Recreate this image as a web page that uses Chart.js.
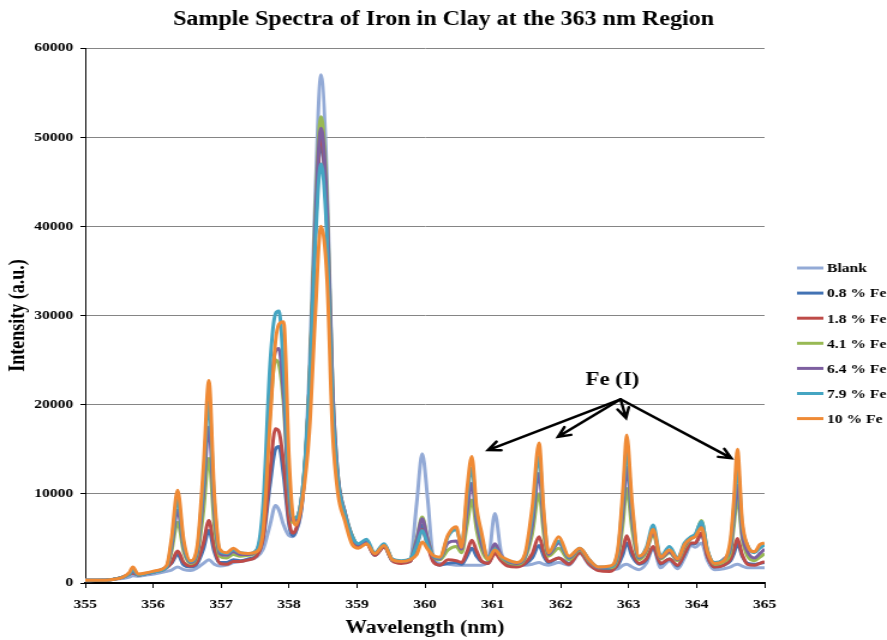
<!DOCTYPE html>
<html>
<head>
<meta charset="utf-8">
<script src="https://cdn.jsdelivr.net/npm/chart.js@4.4.0/dist/chart.umd.min.js"></script>
<style>
  html, body { margin: 0; padding: 0; background: #fff; }
  #spectra { display: block; }
</style>
</head>
<body>
<!-- drawn on a narrower canvas and widened by CSS, so text and strokes come out wide -->
<canvas id="spectra" width="739" height="640" style="width:887px;height:640px"></canvas>
<script>
const wavelengths = [
  355.00, 355.20, 355.40, 355.55, 355.65, 355.70, 355.78, 355.90, 356.05, 356.20,
  356.27, 356.36, 356.45, 356.55, 356.65, 356.74, 356.82, 356.90, 356.98, 357.08,
  357.18, 357.28, 357.40, 357.52, 357.62, 357.72, 357.80, 357.85, 357.92, 358.00,
  358.05, 358.10, 358.20, 358.30, 358.38, 358.47, 358.56, 358.64, 358.72, 358.82,
  358.93, 359.02, 359.14, 359.26, 359.40, 359.52, 359.65, 359.78, 359.88, 359.96,
  360.04, 360.12, 360.22, 360.34, 360.46, 360.54, 360.62, 360.69, 360.76, 360.83,
  360.93, 361.03, 361.12, 361.22, 361.35, 361.47, 361.58, 361.68, 361.75, 361.82,
  361.97, 362.12, 362.28, 362.42, 362.55, 362.72, 362.84, 362.92, 362.97, 363.05,
  363.15, 363.26, 363.36, 363.47, 363.60, 363.72, 363.82, 363.92, 363.98, 364.07,
  364.16, 364.26, 364.40, 364.50, 364.55, 364.60, 364.67, 364.75, 364.85, 364.93,
  365.00
];

const blank = [
  250, 300, 400, 500, 650, 800, 750, 900, 1050, 1300,
  1450, 1800, 1500, 1400, 1700, 2200, 2600, 2100, 1900, 2000,
  2300, 2400, 2600, 2900, 3800, 6500, 8700, 8200, 6500, 5300,
  5200, 5700, 9500, 24000, 42000, 57000, 45000, 22000, 11500, 8000,
  5300, 4300, 4600, 3300, 4300, 2600, 2300, 2500, 9000, 14500,
  9500, 3000, 2200, 2100, 2000, 2000, 2000, 2000, 2000, 2000,
  2400, 7800, 3500, 2100, 2000, 2000, 2100, 2300, 2100, 2000,
  2300, 2000, 3300, 2000, 1500, 1500, 1600, 2000, 2100, 1800,
  1500, 2200, 3900, 1700, 2500, 1600, 2800, 4200, 4000, 4500,
  2500, 1500, 1600, 1800, 2000, 2100, 1900, 1700, 1700, 1700,
  1700
];

const fe08 = [
  300, 300, 400, 650, 1000, 1200, 900, 1050, 1300, 1800,
  2200, 3200, 2000, 1800, 2200, 3800, 5900, 3500, 2300, 2300,
  2600, 2500, 2700, 3100, 5000, 11000, 15000, 15300, 12000, 6500,
  5300, 5800, 9500, 22000, 38000, 49500, 40000, 20000, 11500, 7800,
  5000, 4100, 4500, 3100, 4100, 2500, 2300, 2400, 4300, 6500,
  4500, 2600, 2000, 2200, 2300, 2100, 3000, 3900, 3000, 2400,
  2200, 3500, 2700, 2100, 1900, 2100, 2800, 4200, 3000, 2300,
  2800, 2200, 3500, 2200, 1500, 1500, 2000, 3300, 4500, 3000,
  2100, 2600, 4000, 2100, 2700, 1900, 3200, 4400, 4400, 5500,
  3000, 1800, 2000, 2500, 3300, 4400, 3000, 2200, 2100, 2200,
  2300
];

const fe18 = [
  300, 300, 400, 650, 1000, 1100, 900, 1050, 1300, 1700,
  2300, 3600, 2300, 1900, 2400, 4500, 7000, 4000, 2200, 2100,
  2400, 2400, 2600, 3000, 5200, 12500, 17300, 17000, 13500, 7000,
  5600, 6000, 9800, 22000, 38500, 50000, 40000, 20000, 11500, 7800,
  5000, 4100, 4400, 3100, 4000, 2500, 2200, 2400, 4200, 6000,
  4200, 2400, 2000, 2600, 2500, 2300, 3500, 4800, 3600, 2500,
  2200, 3300, 2500, 1900, 1800, 2200, 3300, 5200, 3500, 2400,
  2800, 2100, 3400, 2100, 1400, 1300, 2200, 4000, 5300, 3500,
  2200, 2700, 4100, 2200, 2700, 2000, 3300, 4500, 4500, 5600,
  3000, 1800, 2000, 2700, 3800, 5000, 3200, 2100, 2000, 2200,
  2400
];

const fe41 = [
  300, 300, 400, 650, 1000, 1300, 900, 1050, 1300, 1800,
  3500, 6800, 3500, 2200, 3200, 8000, 14000, 6500, 3000, 2800,
  3200, 3000, 3100, 3500, 7000, 19000, 25000, 24500, 20000, 9500,
  6800, 7000, 10500, 22000, 40000, 52300, 43000, 22000, 12000, 8000,
  5300, 4300, 4600, 3300, 4200, 2600, 2400, 2600, 5000, 7400,
  5000, 3000, 2600, 3700, 4100, 3400, 6500, 9300, 6000, 3800,
  2600, 4000, 2900, 2300, 2100, 2700, 5500, 10000, 5500, 3000,
  3900, 2600, 3700, 2400, 1700, 1700, 2800, 7000, 10600, 6000,
  2600, 3500, 5500, 2700, 3400, 2500, 4000, 5000, 5300, 7000,
  3600, 2100, 2400, 3500, 6500, 9600, 5000, 3000, 2500, 2900,
  3300
];

const fe64 = [
  300, 300, 400, 650, 1000, 1300, 900, 1050, 1300, 1800,
  4000, 8200, 4000, 2300, 3500, 10000, 17500, 8000, 3300, 3100,
  3500, 3200, 3200, 3600, 7500, 20500, 26000, 26300, 21000, 10000,
  7000, 7100, 10500, 21000, 39000, 51000, 42000, 22000, 12000, 8000,
  5200, 4300, 4600, 3300, 4200, 2600, 2400, 2600, 4800, 7200,
  4900, 3000, 2700, 4500, 4700, 3800, 8000, 11200, 7000, 4500,
  2800, 4400, 3100, 2400, 2200, 2900, 6500, 12300, 6500, 3200,
  4500, 2800, 3800, 2500, 1700, 1800, 3200, 8500, 13000, 7200,
  2800, 3700, 5800, 2800, 3500, 2600, 4200, 5000, 5300, 6500,
  3500, 2200, 2700, 4000, 7500, 11000, 5500, 3500, 2800, 3300,
  3800
];

const fe79 = [
  300, 300, 400, 650, 1000, 1500, 900, 1050, 1300, 1800,
  4500, 9300, 4300, 2400, 3800, 11500, 20300, 9000, 3600, 3300,
  3700, 3400, 3300, 3700, 9000, 24500, 30200, 30500, 24000, 11000,
  7500, 7300, 10500, 22000, 37000, 47000, 38500, 20000, 11500, 7800,
  5200, 4400, 4900, 3400, 4400, 2700, 2500, 2700, 4200, 5900,
  4300, 3100, 2800, 5200, 6000, 4300, 9500, 12900, 8000, 5300,
  2900, 3800, 3000, 2500, 2300, 3000, 7500, 14200, 7500, 3400,
  4700, 2900, 3900, 2600, 1800, 1800, 3500, 10000, 14900, 8200,
  2900, 4000, 6500, 3000, 4100, 2800, 4500, 5200, 5500, 6900,
  3700, 2300, 2600, 4500, 8500, 13200, 6500, 4200, 3400, 3900,
  4300
];

const fe10 = [
  300, 300, 400, 650, 1200, 1800, 1000, 1150, 1400, 2000,
  5000, 10400, 4800, 2500, 4200, 13000, 22700, 10000, 3800, 3400,
  3900, 3400, 3300, 3500, 6000, 18000, 27000, 29000, 29300, 14000,
  8000, 6500, 9500, 17000, 29000, 40000, 34000, 17000, 10000, 7000,
  4300, 3900, 4400, 3300, 4200, 2600, 2400, 2600, 3200, 4600,
  3800, 3100, 2900, 5400, 6300, 4000, 10500, 14200, 8500, 5800,
  2700, 3700, 3000, 2600, 2300, 3200, 8500, 15700, 8000, 3400,
  5200, 3000, 3900, 2600, 1800, 1900, 3800, 11000, 16600, 9000,
  3000, 3800, 6000, 2900, 3700, 2700, 4300, 5000, 5200, 6200,
  3500, 2200, 2500, 5000, 9500, 15000, 7000, 4200, 3500, 4300,
  4500
];

const seriesNames = ['Blank', '0.8 % Fe', '1.8 % Fe', '4.1 % Fe', '6.4 % Fe', '7.9 % Fe', '10 % Fe'];
const seriesValues = [blank, fe08, fe18, fe41, fe64, fe79, fe10];
const seriesColors = ['#93aad6', '#4373b4', '#be4b48', '#98b954', '#7d5fa0', '#45a5c2', '#ef8a35'];

// Fe (I) lines the arrows point at: [wavelength, intensity] of each arrow tip
const arrowTips = [[360.93, 14900], [361.96, 16400], [362.96, 18500], [364.51, 14000]];
const arrowOrigin = [362.88, 20600];
const feLabel = { text: 'Fe (I)', x: 362.76, y: 22700 };

const serif = '"Liberation Serif", "Times New Roman", serif';
Chart.defaults.font.family = serif;
Chart.defaults.font.weight = 'bold';
Chart.defaults.color = '#000';

const datasets = seriesNames.map((name, s) => ({
  label: name,
  data: wavelengths.map((w, i) => ({ x: w, y: seriesValues[s][i] })),
  borderColor: seriesColors[s],
  backgroundColor: seriesColors[s],
  borderWidth: 3,
  pointRadius: 0,
  fill: false,
  cubicInterpolationMode: 'monotone',
  order: seriesNames.length - s
}));

// legend on the right, drawn as short line samples
const sideLegend = {
  id: 'sideLegend',
  afterDraw(chart) {
    const ctx = chart.ctx;
    const area = chart.chartArea;
    const x0 = area.right + 27;
    let y = area.top + 220;
    ctx.save();
    ctx.font = 'bold 13px ' + serif;
    ctx.textBaseline = 'middle';
    ctx.textAlign = 'left';
    chart.data.datasets.forEach(ds => {
      ctx.strokeStyle = ds.borderColor;
      ctx.lineWidth = 3;
      ctx.beginPath();
      ctx.moveTo(x0, y);
      ctx.lineTo(x0 + 22, y);
      ctx.stroke();
      ctx.fillStyle = '#000';
      ctx.fillText(ds.label, x0 + 25, y + 1);
      y += 25.1;
    });
    ctx.restore();
  }
};

// "Fe (I)" label with arrows to the iron lines
const feArrows = {
  id: 'feArrows',
  afterDatasetsDraw(chart) {
    const ctx = chart.ctx;
    const xs = chart.scales.x;
    const ys = chart.scales.y;
    const ox = xs.getPixelForValue(arrowOrigin[0]);
    const oy = ys.getPixelForValue(arrowOrigin[1]);
    ctx.save();
    ctx.strokeStyle = '#000';
    ctx.lineWidth = 2.5;
    ctx.lineCap = 'round';
    arrowTips.forEach(([w, v]) => {
      const tx = xs.getPixelForValue(w);
      const ty = ys.getPixelForValue(v);
      const ang = Math.atan2(ty - oy, tx - ox);
      const head = 11;
      ctx.beginPath();
      ctx.moveTo(ox, oy);
      ctx.lineTo(tx, ty);
      ctx.moveTo(tx - head * Math.cos(ang - 0.45), ty - head * Math.sin(ang - 0.45));
      ctx.lineTo(tx, ty);
      ctx.lineTo(tx - head * Math.cos(ang + 0.45), ty - head * Math.sin(ang + 0.45));
      ctx.stroke();
    });
    ctx.font = 'bold 19px ' + serif;
    ctx.fillStyle = '#000';
    ctx.textAlign = 'center';
    ctx.textBaseline = 'middle';
    ctx.fillText(feLabel.text, xs.getPixelForValue(feLabel.x), ys.getPixelForValue(feLabel.y));
    ctx.restore();
  }
};

new Chart(document.getElementById('spectra'), {
  type: 'line',
  data: { datasets },
  plugins: [sideLegend, feArrows],
  options: {
    responsive: false,
    animation: false,
    events: [],
    layout: { padding: 0 },
    plugins: {
      legend: { display: false },
      tooltip: { enabled: false },
      title: {
        display: true,
        text: 'Sample Spectra of Iron in Clay at the 363 nm Region',
        font: { size: 20, weight: 'bold' },
        color: '#000',
        padding: { top: 8, bottom: 16 }
      }
    },
    scales: {
      x: {
        type: 'linear',
        min: 355,
        max: 365,
        afterFit(scale) { scale.height = 57; },
        ticks: { stepSize: 1, padding: 9, font: { size: 13 }, maxRotation: 0, callback: v => String(v) },
        grid: { drawOnChartArea: false, drawTicks: true, tickLength: 5, tickColor: '#000' },
        border: { color: '#000', width: 2 },
        title: { display: true, text: 'Wavelength (nm)', font: { size: 18 }, padding: { top: 0, bottom: 1 } }
      },
      y: {
        min: 0,
        max: 60000,
        afterFit(scale) { scale.width = 71; },
        ticks: { stepSize: 10000, padding: 6, font: { size: 13 }, callback: v => String(v) },
        grid: { color: '#858585', lineWidth: 1, tickLength: 4, tickColor: '#000' },
        border: { color: '#000', width: 1 },
        title: { display: true, text: 'Intensity (a.u.)', font: { size: 18 }, padding: { top: 5, bottom: 0 } }
      },
      // empty right-hand strip that leaves room for the legend
      legendSpace: {
        position: 'right',
        afterFit(scale) { scale.width = 102; },
        ticks: { display: false },
        grid: { display: false },
        border: { display: false }
      }
    }
  }
});
</script>
</body>
</html>
